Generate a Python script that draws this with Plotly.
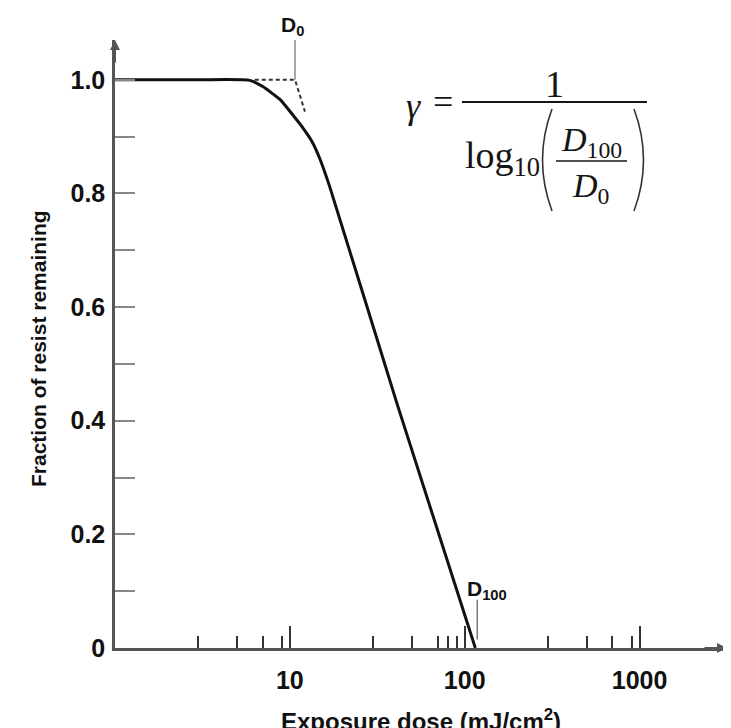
import plotly.graph_objects as go

# ---- data ----
dose = [1, 3, 5.9, 7.0, 8.8, 10.4, 11.7, 13.4, 14.8, 16.9, 41, 115]
fraction = [1.0, 1.0, 0.999, 0.988, 0.965, 0.938, 0.918, 0.891, 0.862, 0.812, 0.43, 0.0]

tangent_dose = [6.3, 10.7, 12.2]
tangent_frac = [1.0, 1.0, 0.944]

D0 = 10.7
D100 = 118

x_major = [10, 100, 1000]
x_major_text = ["10", "100", "1000"]
x_minor = [3, 5, 7, 9, 30, 50, 70, 80, 90, 300, 500, 700, 900]
y_major = [0, 0.2, 0.4, 0.6, 0.8, 1.0]
y_major_text = ["0", "0.2", "0.4", "0.6", "0.8", "1.0"]
y_minor = [0.1, 0.3, 0.5, 0.7, 0.9]

# page body has an 8px margin, so the figure starts at (8, 8) in the window
OFF = 8
W, H = 731 - OFF, 728 - OFF
PL, PR, PT, PB = 115, 727, 40, 648          # plot area in window pixels
ML, MR, MT, MB = PL - OFF, W - (PR - OFF), PT - OFF, H - (PB - OFF)
PW, PH = PR - PL, PB - PT

def px(x):
    return (x - PL) / PW

def py(y):
    return (PB - y) / PH

SANS = "Liberation Sans, Arial, sans-serif"
SERIF = "Liberation Serif, Times New Roman, DejaVu Serif, serif"

fig = go.Figure()

fig.add_trace(go.Scatter(x=dose, y=fraction, mode="lines",
                         line=dict(color="#111", width=3, shape="spline", smoothing=0.5),
                         cliponaxis=False, hoverinfo="skip"))
fig.add_trace(go.Scatter(x=tangent_dose, y=tangent_frac, mode="lines",
                         line=dict(color="#333", width=2, dash="4px,3px"),
                         cliponaxis=False, hoverinfo="skip"))
fig.add_trace(go.Scatter(x=[D0, D0], y=[1.0, 1.07], mode="lines",
                         line=dict(color="#888", width=1.5), cliponaxis=False, hoverinfo="skip"))
fig.add_trace(go.Scatter(x=[D100, D100], y=[0.085, 0.015], mode="lines",
                         line=dict(color="#777", width=1.5), cliponaxis=False, hoverinfo="skip"))

fig.update_layout(
    width=W, height=H,
    margin=dict(l=ML, r=MR, t=MT, b=MB),
    paper_bgcolor="white", plot_bgcolor="white",
    showlegend=False,
    xaxis=dict(type="log", range=[0, 3.5], showgrid=False, zeroline=False,
               showline=True, linecolor="#555", linewidth=2.5,
               ticks="inside", tickmode="array", tickvals=x_major, ticktext=x_major_text,
               ticklen=22, tickwidth=2, tickcolor="#333",
               minor=dict(tickmode="array", tickvals=x_minor, ticks="inside",
                          ticklen=12, tickwidth=2, tickcolor="#333"),
               ticklabelstandoff=8,
               tickfont=dict(family=SANS, size=25, color="#111", weight="bold")),
    yaxis=dict(range=[0, 1.07], showgrid=False, zeroline=False,
               showline=True, linecolor="#555", linewidth=2.5,
               ticks="inside", tickmode="array", tickvals=y_major, ticktext=y_major_text,
               ticklen=20, tickwidth=2, tickcolor="#888",
               minor=dict(tickmode="array", tickvals=y_minor, ticks="inside",
                          ticklen=20, tickwidth=2, tickcolor="#888"),
               ticklabelstandoff=2,
               tickfont=dict(family=SANS, size=25, color="#111", weight="bold")),
)

ann = []
# axis arrows
ann.append(dict(xref="paper", yref="paper", x=0, y=1, ax=0, ay=24, text="",
                showarrow=True, arrowhead=2, arrowsize=1, arrowwidth=2, arrowcolor="#555"))
ann.append(dict(xref="paper", yref="paper", x=1, y=0, ax=-24, ay=0, text="",
                showarrow=True, arrowhead=2, arrowsize=1, arrowwidth=2, arrowcolor="#555"))
# axis titles
ann.append(dict(xref="paper", yref="paper", x=px(38), y=py(349), text="Fraction of resist remaining",
                textangle=-90, showarrow=False, xanchor="center", yanchor="middle",
                font=dict(family=SANS, size=21, color="#111", weight="bold")))
ann.append(dict(xref="paper", yref="paper", x=px(421), y=py(703),
                text="Exposure dose (mJ/cm<sup>2</sup>)",
                showarrow=False, xanchor="center", yanchor="top",
                font=dict(family=SANS, size=24, color="#111", weight="bold")))
# D0 / D100 labels
ann.append(dict(xref="paper", yref="paper", x=px(292), y=py(26), text="D<sub>0</sub>",
                showarrow=False, xanchor="center", yanchor="middle",
                font=dict(family=SANS, size=21, color="#111", weight="bold")))
ann.append(dict(xref="paper", yref="paper", x=px(465), y=py(590), text="D<sub>100</sub>",
                showarrow=False, xanchor="left", yanchor="middle",
                font=dict(family=SANS, size=21, color="#111", weight="bold")))
# formula
fcol = "#151515"
ann.append(dict(xref="paper", yref="paper", x=px(413), y=py(106), text="<i>γ</i>",
                showarrow=False, xanchor="center", yanchor="middle",
                font=dict(family=SERIF, size=36, color=fcol)))
ann.append(dict(xref="paper", yref="paper", x=px(443), y=py(102), text="=",
                showarrow=False, xanchor="center", yanchor="middle",
                font=dict(family=SERIF, size=36, color=fcol)))
ann.append(dict(xref="paper", yref="paper", x=px(554), y=py(84), text="1",
                showarrow=False, xanchor="center", yanchor="middle",
                font=dict(family=SERIF, size=38, color=fcol)))
ann.append(dict(xref="paper", yref="paper", x=px(463), y=py(158), text="log<sub>10</sub>",
                showarrow=False, xanchor="left", yanchor="middle",
                font=dict(family=SERIF, size=38, color=fcol)))
ann.append(dict(xref="paper", yref="paper", x=px(591), y=py(142), text="<i>D</i><sub>100</sub>",
                showarrow=False, xanchor="center", yanchor="middle",
                font=dict(family=SERIF, size=34, color=fcol)))
ann.append(dict(xref="paper", yref="paper", x=px(590), y=py(188), text="<i>D</i><sub>0</sub>",
                showarrow=False, xanchor="center", yanchor="middle",
                font=dict(family=SERIF, size=34, color=fcol)))
fig.update_layout(annotations=ann)

shapes = []
shapes.append(dict(type="line", xref="paper", yref="paper", x0=px(462), x1=px(647),
                   y0=py(102), y1=py(102), line=dict(color=fcol, width=2)))
shapes.append(dict(type="line", xref="paper", yref="paper", x0=px(556), x1=px(627),
                   y0=py(161), y1=py(161), line=dict(color=fcol, width=1.6)))

def paren(x_end, x_ctrl):
    return (f"M {px(x_end)},{py(109)} Q {px(x_ctrl)},{py(160)} {px(x_end)},{py(211)}")

shapes.append(dict(type="path", xref="paper", yref="paper", path=paren(552, 533),
                   line=dict(color="#333", width=1.6)))
shapes.append(dict(type="path", xref="paper", yref="paper", path=paren(634, 653),
                   line=dict(color="#333", width=1.6)))
fig.update_layout(shapes=shapes)

fig.write_html("out.html")
